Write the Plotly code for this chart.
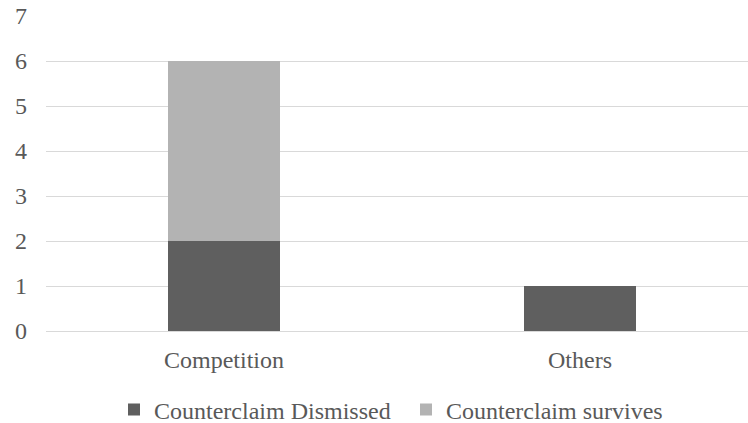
import plotly.graph_objects as go

categories = ["Competition", "Others"]
dismissed = [2, 1]
survives = [4, 0]
y_ticks = [0, 1, 2, 3, 4, 5, 6, 7]

fig = go.Figure()
fig.add_trace(go.Bar(name="Counterclaim Dismissed", x=categories, y=dismissed,
                     marker=dict(color="#5f5f5f", line=dict(width=0)), width=0.315))
fig.add_trace(go.Bar(name="Counterclaim survives", x=categories, y=survives,
                     marker=dict(color="#b3b3b3", line=dict(width=0)), width=0.315))

font = dict(family="Liberation Serif", size=24, color="#595959")
fig.update_layout(
    barmode="stack",
    width=748, height=423,
    margin=dict(l=46, r=0, t=15.5, b=91.5, autoexpand=False),
    paper_bgcolor="white", plot_bgcolor="white",
    font=font,
    showlegend=True,
    legend=dict(orientation="h", x=114 / 748, xanchor="left", xref="container",
                y=0.031, yanchor="middle", yref="container",
                font=font, traceorder="normal", itemwidth=30, entrywidth=247),
    xaxis=dict(range=[-0.5, 1.472], showgrid=False, showline=False, ticks="",
               tickfont=font, ticklabelstandoff=12),
    yaxis=dict(range=[0, 7], tickvals=y_ticks, showgrid=True, gridcolor="#d9d9d9",
               gridwidth=1, zeroline=True, zerolinecolor="#d9d9d9", zerolinewidth=1,
               showline=False, ticks="", tickfont=font, ticklabelstandoff=18),
)
fig.write_html("out.html")
